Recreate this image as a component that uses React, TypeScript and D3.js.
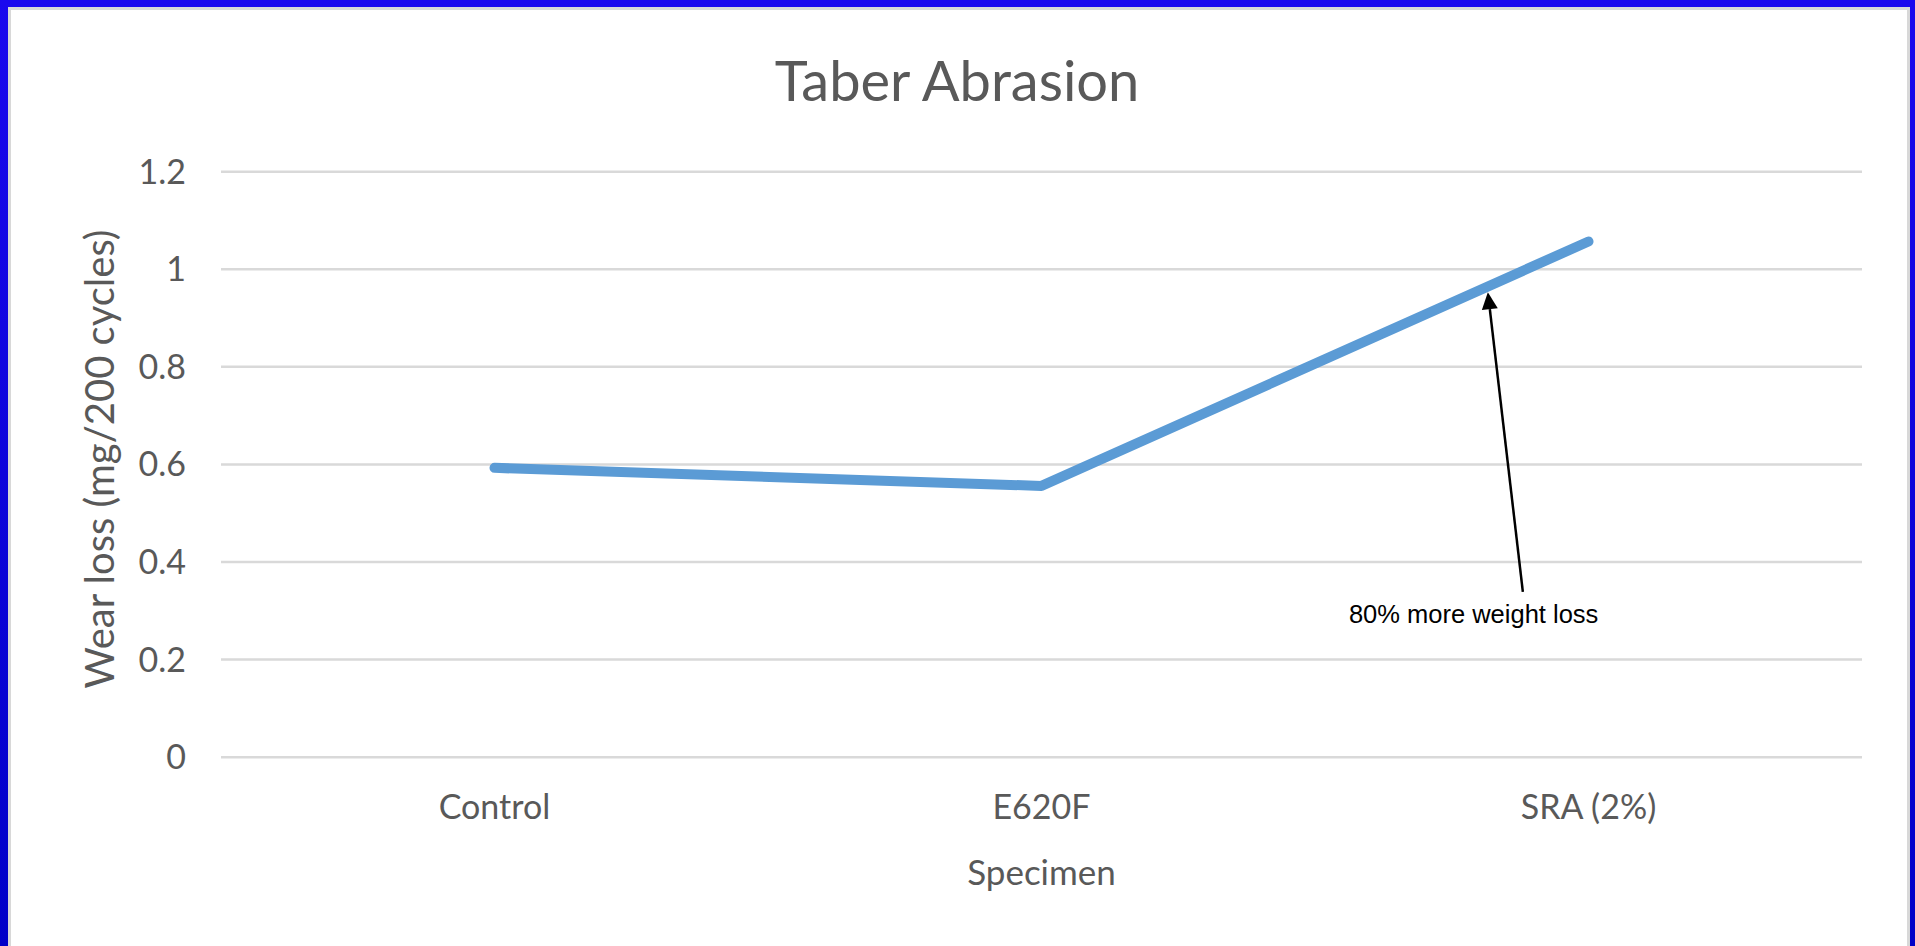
import React from 'react';
import * as d3 from 'd3';

// chart data
const categories = ['Control', 'E620F', 'SRA (2%)'];
const wearLoss = [0.593, 0.556, 1.057];
const yTicks = [0, 0.2, 0.4, 0.6, 0.8, 1, 1.2];

// annotation, positions given in (category index, value) units
const noteText = '80% more weight loss';
const noteTip = [1.816, 0.953];
const noteBase = [1.88, 0.339];
const noteLabel = [1.79, 0.276];

const W = 1915;
const H = 946;
const left = 221;
const right = 1862;
const top = 171.7;
const bottom = 757.2;

const font = 'Lato, "Open Sans", sans-serif';
const grey = '#595959';

const App = () => {
  const x = d3.scalePoint<string>().domain(categories).range([left, right]).padding(0.5);
  const step = x.step();
  const xPos = (i: number) => (x(categories[0]) as number) + i * step;
  const y = d3.scaleLinear().domain([0, 1.2]).range([bottom, top]);

  const line = d3
    .line<number>()
    .x((d, i) => x(categories[i]) as number)
    .y(d => y(d));

  // arrow geometry
  const tx = xPos(noteTip[0]);
  const ty = y(noteTip[1]);
  const bx = xPos(noteBase[0]);
  const by = y(noteBase[1]);
  const ang = Math.atan2(ty - by, tx - bx);
  const headLen = 17;
  const headW = 8;
  const hx = tx - headLen * Math.cos(ang);
  const hy = ty - headLen * Math.sin(ang);
  const px = -Math.sin(ang) * headW;
  const py = Math.cos(ang) * headW;

  return (
    <div style={{ position: 'fixed', left: 0, top: 0 }}>
      <svg width={W} height={H} style={{ display: 'block' }}>
        <defs>
          <linearGradient id="frame" x1="0" y1="0" x2="0" y2="1">
            <stop offset="0" stopColor="#1a08ee" />
            <stop offset="1" stopColor="#0000c8" />
          </linearGradient>
        </defs>
        <rect width={W} height={H} fill="url(#frame)" />
        <rect x={8} y={7} width={W - 13} height={H - 7} fill="#d8d8d8" />
        <rect x={11} y={10} width={W - 19} height={H - 10} fill="#ffffff" />

        {/* title */}
        <text x={957} y={101} textAnchor="middle" fontFamily={font} fontSize={56} fill={grey}>
          Taber Abrasion
        </text>

        {/* gridlines + y ticks */}
        {yTicks.map(t => (
          <g key={t}>
            <line x1={left} x2={right} y1={y(t)} y2={y(t)} stroke="#d9d9d9" strokeWidth={2.5} />
            <text x={186} y={y(t) + 12} textAnchor="end" fontFamily={font} fontSize={34} fill={grey}>
              {d3.format('~g')(t)}
            </text>
          </g>
        ))}

        {/* x ticks */}
        {categories.map(c => (
          <text key={c} x={x(c)} y={819} textAnchor="middle" fontFamily={font} fontSize={34} fill={grey}>
            {c}
          </text>
        ))}

        <text x={(left + right) / 2} y={885} textAnchor="middle" fontFamily={font} fontSize={35} fill={grey}>
          Specimen
        </text>
        <text
          transform="translate(114, 459) rotate(-90)"
          textAnchor="middle"
          fontFamily={font}
          fontSize={40}
          fill={grey}
        >
          Wear loss (mg/200 cycles)
        </text>

        {/* series */}
        <path
          d={line(wearLoss) || ''}
          fill="none"
          stroke="#5b9bd5"
          strokeWidth={10}
          strokeLinecap="round"
          strokeLinejoin="round"
        />

        {/* annotation */}
        <line x1={bx} y1={by} x2={hx} y2={hy} stroke="#000" strokeWidth={2.5} />
        <path d={`M${tx},${ty}L${hx + px},${hy + py}L${hx - px},${hy - py}Z`} fill="#000" />
        <text
          x={xPos(noteLabel[0])}
          y={y(noteLabel[1])}
          textAnchor="middle"
          fontFamily='"Liberation Sans", Arial, sans-serif'
          fontSize={25.5}
          fill="#000"
        >
          {noteText}
        </text>
      </svg>
    </div>
  );
};

export default App;
